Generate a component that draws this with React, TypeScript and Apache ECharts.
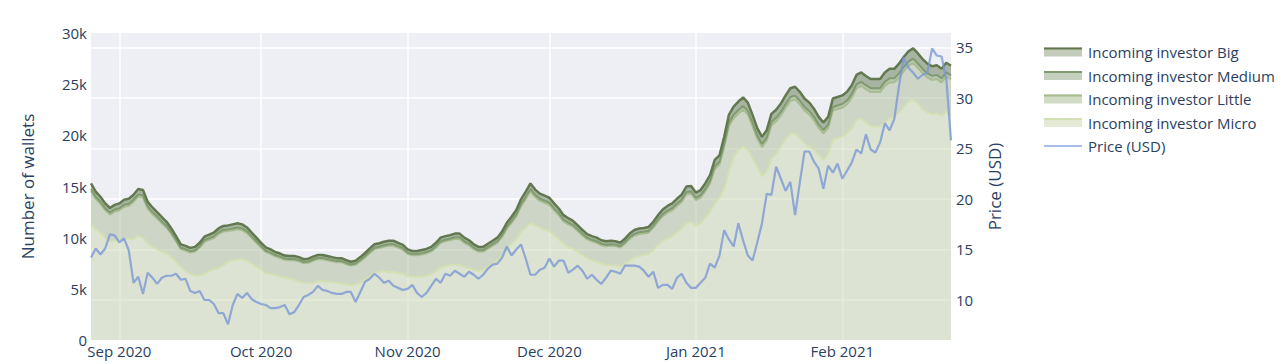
import React, { useEffect, useRef } from "react";
import * as echarts from "echarts";

const START_DATE = Date.UTC(2020, 7, 26);
const DAY_COUNT = 183;
const MONTHS = ["Jan", "Feb", "Mar", "Apr", "May", "Jun", "Jul", "Aug", "Sep", "Oct", "Nov", "Dec"];
const dates: string[] = Array.from({ length: DAY_COUNT }, (_, i) =>
  new Date(START_DATE + i * 86400000).toISOString().slice(0, 10)
);

const seriesNames = [
  "Incoming investor Big",
  "Incoming investor Medium",
  "Incoming investor Little",
  "Incoming investor Micro",
  "Price (USD)",
];

const micro = [11300,10800,10500,10000,9600,9700,9800,9900,9900,9850,
10200,10000,9450,9100,8900,8600,8450,8100,7650,7150,
6750,6450,6300,6300,6450,6750,6900,7050,7300,7650,
7800,7900,7900,7750,7500,7150,6900,6550,6450,6350,
6200,6100,6000,5900,5700,5600,5550,5600,5750,5750,
5700,5650,5600,5550,5450,5350,5450,5600,5900,6250,
6550,6650,6750,6650,6650,6550,6450,6250,6200,6200,
6200,6250,6450,6750,7100,7200,7300,7400,7300,7150,
7000,6850,6750,6850,7150,7500,7800,8200,8950,9400,
9850,10600,10950,11450,11200,11000,10800,10650,10250,9850,
9400,9050,8950,8600,8300,8000,7800,7650,7500,7300,
7300,7300,7200,7400,7800,8100,8200,8300,8400,8800,
9300,9700,9900,10100,10500,10900,11400,11550,11150,11400,
11900,12500,13350,13900,14800,16450,17900,18550,18900,18550,
17750,16900,16000,16450,17750,18150,18950,19600,20200,20200,
19750,19200,18900,18600,18050,17600,18200,19550,19750,19900,
20200,20650,21500,21650,21250,20900,20850,20900,21250,21650,
21800,22200,22800,23300,23500,23100,22550,22250,22050,22150,
21900,22350,22000];

const little = [3230,2970,2800,2680,2660,2840,2880,3110,3210,3640,
3810,3920,3380,3210,2970,2800,2530,2260,1990,1730,
1990,2090,2340,2730,3150,3030,3070,3310,3290,2990,
2930,2930,2830,2690,2470,2350,2130,2040,1960,1820,
1820,1740,1790,1890,2000,1900,2000,2140,2140,2140,
2090,2050,2000,2050,1960,1920,1910,2100,2170,2260,
2330,2330,2370,2560,2560,2480,2380,2160,2070,2070,
2160,2210,2190,2280,2400,2440,2440,2480,2580,2350,
2260,2030,1890,1790,1780,1710,1700,1870,1930,2050,
2220,2460,2820,3080,2770,2590,2600,2550,2430,2360,
2190,2250,2120,2040,1910,1830,1840,1850,1760,1870,
1910,1870,1830,2000,2080,2110,2160,2110,2090,2180,
2290,2410,2540,2580,2610,2590,2840,2740,2530,2520,
2630,2800,3370,3250,4050,4450,3760,3580,3610,3490,
3150,2770,2850,3020,3250,3220,2990,3100,3170,3310,
3290,3220,3140,2870,2660,2590,2510,2870,2810,2800,
2840,3010,3100,3190,3260,3330,3380,3330,3590,3520,
3370,3450,3470,3490,3570,3500,3530,3400,3360,3360,
3270,3390,3460];

const medium = [230,220,210,200,190,200,200,210,210,210,
220,220,200,190,190,180,170,160,150,140,
140,140,140,140,150,160,160,160,170,170,
170,170,170,170,160,150,140,140,130,130,
130,120,120,120,120,120,120,120,120,120,
120,120,120,120,120,110,120,120,130,130,
140,140,140,150,150,140,140,130,130,130,
130,130,140,140,150,150,150,160,160,150,
150,140,140,140,140,150,150,160,170,180,
190,210,220,230,220,210,210,210,200,190,
180,180,170,170,160,160,150,150,150,140,
150,140,140,150,160,160,160,160,170,170,
180,190,200,200,210,210,230,230,220,220,
230,240,260,270,300,330,340,350,360,350,
330,310,300,310,330,340,350,360,370,370,
360,350,350,340,330,320,330,350,360,360,
360,370,390,390,390,380,380,380,390,400,
400,400,410,420,430,420,410,400,400,400,
400,410,400];

const big = [540,510,490,470,450,460,470,480,480,500,
520,510,470,450,440,420,400,380,360,330,
320,320,320,330,350,360,370,380,390,390,
400,400,400,390,370,350,330,320,310,300,
300,290,290,290,280,280,280,290,290,290,
290,280,280,280,270,270,270,280,300,310,
330,330,340,340,340,330,330,310,300,300,
310,310,320,330,350,360,360,360,360,350,
340,330,320,320,330,340,350,370,400,420,
440,480,510,540,510,500,490,490,470,450,
430,420,410,390,380,360,360,350,340,340,
340,340,330,350,360,380,380,380,390,400,
430,450,460,470,480,500,530,530,500,510,
540,560,620,630,700,770,800,820,830,810,
770,720,700,720,770,790,810,840,860,870,
850,830,810,790,760,740,760,830,830,840,
850,870,910,920,900,890,890,890,920,930,
930,950,970,990,1000,980,960,950,940,940,
930,950,940];

const price = [14.2,15.1,14.5,15.1,16.5,16.4,15.7,16.1,14.9,11.7,
12.3,10.6,12.7,12.2,11.6,12.2,12.4,12.4,12.6,12.0,
12.1,10.9,10.7,10.9,10.0,10.0,9.6,8.7,8.7,7.6,
9.5,10.6,10.2,10.7,10.1,9.8,9.6,9.5,9.2,9.2,
9.3,9.5,8.6,8.8,9.5,10.3,10.5,10.8,11.4,11.0,
10.9,10.7,10.6,10.6,10.8,10.8,9.8,10.8,11.8,12.1,
12.6,12.2,11.7,11.9,11.4,11.2,11.0,11.1,11.5,10.7,
10.3,10.7,11.4,12.1,11.7,12.6,12.4,12.9,12.6,12.3,
12.8,12.5,12.1,12.5,13.1,13.5,13.6,14.2,15.3,14.4,
15.0,15.5,14.1,12.5,12.5,13.0,13.2,14.1,13.3,13.9,
13.9,12.7,13.0,13.4,12.9,12.1,12.5,12.0,11.6,12.2,
12.9,12.8,12.6,13.4,13.4,13.4,13.3,12.9,12.3,12.8,
11.2,11.5,11.5,11.1,12.2,12.6,11.7,11.2,11.2,11.7,
12.2,13.6,13.2,14.4,16.9,16.0,15.3,17.6,15.9,14.4,
13.9,15.7,17.6,20.5,20.4,23.2,22.0,20.8,21.7,18.4,
21.6,24.7,24.7,23.7,23.0,21.0,23.3,22.6,23.5,22.0,
22.8,23.6,24.9,24.5,26.4,24.9,24.6,25.6,27.5,26.8,
27.9,31.2,34.0,33.0,32.5,31.9,32.3,32.5,34.9,34.2,
34.1,31.9,25.8];

const walletTicks = [0, 5000, 10000, 15000, 20000, 25000, 30000];

const FONT = "'Open Sans', verdana, arial, sans-serif";
const TXT = "#2a3f5f";

const lineColors = ["#62794f", "#809b70", "#a7bc90", "#d2e0b3"];
const areaColors = [
  "rgba(98,121,79,0.5)",
  "rgba(128,155,112,0.5)",
  "rgba(172,188,151,0.5)",
  "rgba(202,216,175,0.5)",
];
const legendFill = ["#c3cbbb", "#c6d0be", "#d1dbc5", "#e4ead6"];
const PRICE_COLOR = "rgba(120,150,214,0.78)";

export default function App() {
  const ref = useRef<HTMLDivElement>(null);
  useEffect(() => {
    if (!ref.current) return;
    const chart = echarts.init(ref.current, undefined, { renderer: "svg" });
    const isMonthStart = (_i: number, v: string) => typeof v === "string" && v.endsWith("-01");
    const stackData = [big, medium, little, micro];
    const areaSeries = [3, 2, 1, 0].map((k) => ({
      name: seriesNames[k],
      type: "line",
      stack: "wallets",
      data: stackData[k],
      showSymbol: false,
      symbol: "none",
      lineStyle: { color: lineColors[k], width: k === 0 ? 2.5 : 2 },
      itemStyle: { color: lineColors[k] },
      areaStyle: { color: areaColors[k], opacity: 1 },
      emphasis: { disabled: true },
    }));

    const rowH = 23.5;
    const cy0 = 52;
    const graphics: any[] = [];
    seriesNames.forEach((n, i) => {
      const cy = cy0 + rowH * i;
      if (i < 4) {
        graphics.push({
          type: "rect",
          shape: { x: 1044, y: cy - 4.5, width: 38, height: 9 },
          style: { fill: legendFill[i] },
          silent: true,
        });
        graphics.push({
          type: "rect",
          shape: { x: 1044, y: cy - 4.5, width: 38, height: 2 },
          style: { fill: lineColors[i] },
          silent: true,
        });
      } else {
        graphics.push({
          type: "rect",
          shape: { x: 1044, y: cy - 1, width: 38, height: 2 },
          style: { fill: "#a9bdec" },
          silent: true,
        });
      }
      graphics.push({
        type: "text",
        x: 1088,
        y: cy,
        style: {
          text: n,
          fontSize: 15,
          fontFamily: FONT,
          fill: TXT,
          textAlign: "left",
          textVerticalAlign: "middle",
        },
        silent: true,
      });
    });

    chart.setOption({
      animation: false,
      textStyle: { fontFamily: FONT },
      grid: {
        left: 91,
        right: 331,
        top: 33,
        bottom: 24,
        show: true,
        backgroundColor: "#eeeff5",
        borderWidth: 0,
      },
      xAxis: {
        type: "category",
        data: dates,
        boundaryGap: false,
        axisLine: { show: false },
        axisTick: { show: false },
        axisLabel: {
          interval: isMonthStart,
          margin: 3,
          fontSize: 15,
          color: TXT,
          fontFamily: FONT,
          formatter: (v: string) => {
            const [y, m] = v.split("-");
            return `${MONTHS[parseInt(m, 10) - 1]} ${y}`;
          },
        },
        splitLine: {
          show: true,
          interval: isMonthStart,
          lineStyle: { color: "#ffffff", width: 1.5 },
        },
      },
      yAxis: [
        {
          type: "value",
          position: "left",
          min: walletTicks[0],
          max: walletTicks[walletTicks.length - 1],
          interval: 5000,
          name: "Number of wallets",
          nameLocation: "middle",
          nameRotate: 90,
          nameGap: 55,
          nameTextStyle: { fontSize: 17, color: TXT, fontFamily: FONT },
          axisLine: { show: false },
          axisTick: { show: false },
          splitLine: { show: false },
          axisLabel: {
            margin: 4,
            fontSize: 15,
            color: TXT,
            fontFamily: FONT,
            formatter: (v: number) => (v === 0 ? "0" : `${v / 1000}k`),
          },
        },
        {
          type: "value",
          position: "right",
          min: 6.04,
          max: 36.43,
          splitNumber: 6,
          alignTicks: false,
          name: "Price (USD)",
          nameLocation: "middle",
          nameRotate: 90,
          nameGap: 35,
          nameTextStyle: { fontSize: 17, color: TXT, fontFamily: FONT },
          axisLine: { show: false },
          axisTick: { show: false },
          splitLine: {
            show: true,
            showMinLine: false,
            showMaxLine: false,
            lineStyle: { color: "#ffffff", width: 1.5 },
          },
          axisLabel: {
            margin: 5,
            fontSize: 15,
            color: TXT,
            fontFamily: FONT,
            showMinLabel: false,
            showMaxLabel: false,
          },
        },
      ],
      series: [
        ...areaSeries,
        {
          name: seriesNames[4],
          type: "line",
          yAxisIndex: 1,
          data: price,
          showSymbol: false,
          symbol: "none",
          lineStyle: { color: PRICE_COLOR, width: 2.2 },
          itemStyle: { color: PRICE_COLOR },
          emphasis: { disabled: true },
        },
      ],
      graphic: graphics,
    });
    return () => chart.dispose();
  }, []);
  return (
    <div
      ref={ref}
      style={{ position: "fixed", left: 0, top: 0, width: 1282, height: 364, background: "#ffffff" }}
    />
  );
}
